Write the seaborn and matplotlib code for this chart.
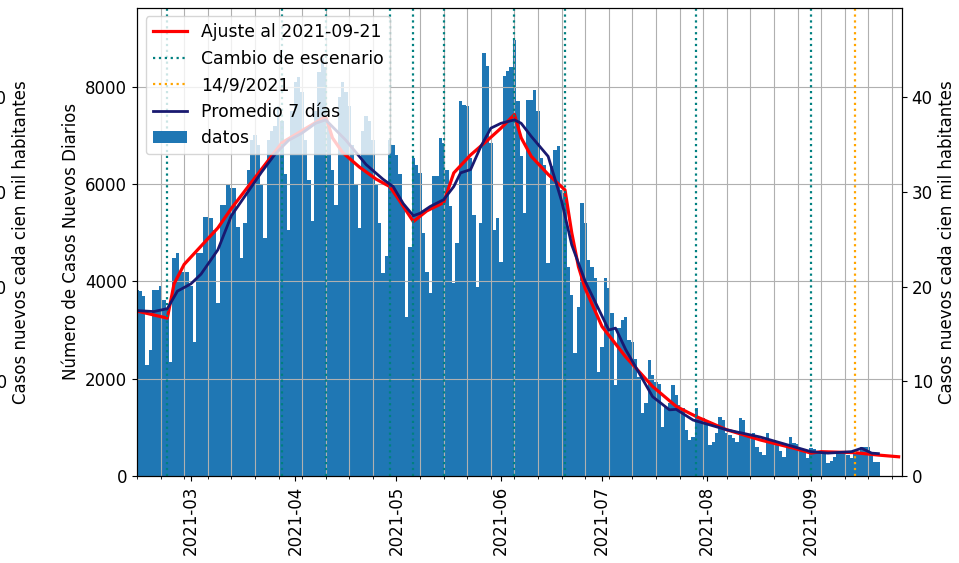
import matplotlib
matplotlib.use("Agg")
import matplotlib.pyplot as plt
import matplotlib.dates as mdates
import pandas as pd
import seaborn as sns

plt.rcParams["font.family"] = ["DejaVu Sans"]
plt.rcParams["font.size"] = 12

# Casos nuevos diarios desde 2021-02-13 (una fila por semana, sábado a viernes)
inicio = "2021-02-13"
casos = [
    3826, 3800, 3700, 2283, 2600, 3826, 3826,
    3900, 3620, 3400, 2351, 4484, 4587, 4202,
    4202, 4202, 3900, 2762, 4587, 4587, 5333,
    5333, 5300, 5060, 3558, 5574, 5574, 5985,
    5923, 5923, 5128, 4484, 5200, 6294, 6900,
    7000, 6800, 6000, 4895, 6900, 7100, 7200,
    7600, 7300, 6200, 5060, 7500, 8100, 8200,
    7900, 6900, 6088, 5232, 7500, 8300, 8600,
    8400, 7200, 6300, 5574, 7800, 8100, 7900,
    7600, 6800, 6000, 5100, 7100, 7400, 7300,
    6900, 6000, 5200, 4175, 4512, 6900, 6800,
    6600, 6200, 5600, 3277, 4717, 6540, 6400,
    6230, 5000, 4200, 3760, 6157, 6157, 6950,
    6850, 6294, 5540, 3970, 4790, 7700, 7630,
    7600, 6540, 5370, 3893, 5200, 8693, 8419,
    6850, 5060, 5300, 4400, 8212, 8316, 8400,
    8968, 7700, 6568, 5403, 7734, 7734, 7940,
    7493, 6534, 6400, 4375, 6362, 6705, 6773,
    5883, 5820, 4300, 3723, 2530, 3483, 5609,
    5200, 4443, 4300, 4072, 2146, 2660, 4072,
    3866, 3350, 1872, 3044, 3200, 3277, 2797,
    2762, 2400, 2042, 1296, 1500, 2386, 2077,
    1940, 1900, 1014, 1426, 1500, 1872, 1666,
    1460, 1400, 946, 740, 800, 1392, 1220,
    1200, 1152, 638, 700, 884, 1220, 1150,
    884, 843, 780, 706, 1193, 1150, 808,
    850, 884, 603, 500, 432, 884, 740,
    740, 638, 520, 397, 603, 808, 678,
    650, 570, 560, 370, 570, 560, 520,
    520, 500, 267, 300, 397, 467, 467,
    467, 430, 370, 467, 470, 603, 603,
    603, 467, 294, 280,
]

# Ajuste por tramos entre cambios de escenario
ajuste_fechas = ["2021-02-13", "2021-02-22", "2021-02-24", "2021-02-27", "2021-03-03",
                 "2021-03-09", "2021-03-13", "2021-03-18", "2021-03-23", "2021-03-28",
                 "2021-04-03", "2021-04-10", "2021-04-12", "2021-04-15", "2021-04-20",
                 "2021-04-25", "2021-04-29", "2021-05-02", "2021-05-06", "2021-05-10",
                 "2021-05-15", "2021-05-18", "2021-05-23", "2021-05-28", "2021-06-01",
                 "2021-06-05", "2021-06-07", "2021-06-10", "2021-06-15", "2021-06-20",
                 "2021-06-22", "2021-06-24", "2021-06-26", "2021-07-01", "2021-07-08",
                 "2021-07-16", "2021-07-23", "2021-07-29", "2021-08-07", "2021-08-17",
                 "2021-08-27", "2021-09-01", "2021-09-04", "2021-09-14", "2021-09-21",
                 "2021-09-27"]
ajuste_valores = [3390, 3245, 3950, 4350, 4650,
                  5100, 5500, 5950, 6400, 6850,
                  7100, 7390, 6950, 6650, 6350,
                  6100, 5950, 5650, 5230, 5450,
                  5620, 6230, 6600, 6900, 7150,
                  7430, 6950, 6570, 6200, 5880,
                  5000, 4300, 3850, 3070, 2450,
                  1840, 1430, 1220, 950, 740,
                  570, 470, 500, 480, 430,
                  395]

# Promedio móvil de 7 días
prom_fechas = ["2021-02-13", "2021-02-18", "2021-02-22", "2021-02-25", "2021-03-01",
               "2021-03-04", "2021-03-09", "2021-03-13", "2021-03-18", "2021-03-22",
               "2021-03-26", "2021-03-30", "2021-04-03", "2021-04-07", "2021-04-10",
               "2021-04-16", "2021-04-22", "2021-04-27", "2021-04-30", "2021-05-03",
               "2021-05-06", "2021-05-08", "2021-05-11", "2021-05-15", "2021-05-18",
               "2021-05-20", "2021-05-23", "2021-05-26", "2021-05-29", "2021-06-01",
               "2021-06-05", "2021-06-07", "2021-06-10", "2021-06-15", "2021-06-19",
               "2021-06-22", "2021-06-26", "2021-07-03", "2021-07-05", "2021-07-08",
               "2021-07-16", "2021-07-21", "2021-07-23", "2021-07-28", "2021-08-07",
               "2021-08-17", "2021-08-27", "2021-09-01", "2021-09-06", "2021-09-13",
               "2021-09-16", "2021-09-19", "2021-09-21"]
prom_valores = [3400, 3380, 3440, 3800, 3950,
                4150, 4650, 5350, 5850, 6250,
                6620, 6900, 7050, 7250, 7320,
                6900, 6400, 6100, 5950, 5600,
                5350, 5400, 5540, 5680, 5950,
                6230, 6300, 6770, 7150, 7250,
                7320, 7250, 6980, 6570, 5650,
                4750, 4000, 3000, 3040, 2600,
                1630, 1360, 1370, 1150, 950,
                800, 600, 500, 470, 500,
                570, 470, 460]

cambios = ["2021-02-22", "2021-03-28", "2021-04-10", "2021-04-29", "2021-05-06",
           "2021-05-15", "2021-06-05", "2021-06-20", "2021-07-29", "2021-09-01"]
fecha_ref = "2021-09-14"
poblacion = 19_470_000
ymax = 9630

fechas = pd.date_range(inicio, periods=len(casos), freq="D")
df = pd.DataFrame({"fecha": fechas, "casos": casos})
aj = pd.DataFrame({"fecha": pd.to_datetime(ajuste_fechas), "valor": ajuste_valores})
pr = pd.DataFrame({"fecha": pd.to_datetime(prom_fechas), "valor": prom_valores})

fig = plt.figure(figsize=(9.59, 5.63), dpi=100)
ax = fig.add_axes([137 / 959, 1 - 476 / 563, (902 - 137) / 959, (476 - 7.5) / 563])

ax.bar(df["fecha"], df["casos"], width=1.0, color="#1f77b4", label="datos")
sns.lineplot(data=aj, x="fecha", y="valor", ax=ax, color="red", lw=2.3,
             label="Ajuste al 2021-09-21", legend=False)
for k, c in enumerate(cambios):
    ax.axvline(pd.Timestamp(c), color="teal", ls=":", lw=1.6,
               label="Cambio de escenario" if k == 0 else None)
ax.axvline(pd.Timestamp(fecha_ref), color="orange", ls=":", lw=1.6, label="14/9/2021")
sns.lineplot(data=pr, x="fecha", y="valor", ax=ax, color="#191970", lw=2.0,
             label="Promedio 7 días", legend=False)

ax.set_xlim(pd.Timestamp("2021-02-13"), pd.Timestamp("2021-09-28"))
ax.set_ylim(0, ymax)
ax.set_yticks([0, 2000, 4000, 6000, 8000])
ax.xaxis.set_major_locator(mdates.MonthLocator())
ax.xaxis.set_major_formatter(mdates.DateFormatter("%Y-%m"))
ax.xaxis.set_minor_locator(mdates.WeekdayLocator(byweekday=mdates.SA))
plt.setp(ax.get_xticklabels(), rotation=90)
ax.grid(which="minor", axis="x", color="#b0b0b0", lw=0.8)
ax.grid(which="major", axis="y", color="#b0b0b0", lw=0.8)
ax.set_xlabel("")
ax.set_ylabel("Número de Casos Nuevos Diarios")

ax2 = ax.twinx()
ax2.set_ylim(0, ymax * 1e5 / poblacion)
ax2.set_yticks([0, 10, 20, 30, 40])
ax2.set_ylabel("Casos nuevos cada cien mil habitantes")

orden = ["Ajuste al 2021-09-21", "Cambio de escenario", "14/9/2021", "Promedio 7 días", "datos"]
h, l = ax.get_legend_handles_labels()
m = dict(zip(l, h))
ax.legend([m[o] for o in orden], orden, loc="upper left", fontsize=12.4)

# eje secundario del panel vecino, a la izquierda
axp = fig.add_axes([-0.5, 1 - 476 / 563, 0.475, (476 - 7.5) / 563])
axp.set_ylim(0, ymax * 1e5 / poblacion)
axp.yaxis.tick_right()
axp.yaxis.set_label_position("right")
axp.set_yticks([0, 10, 20, 30, 40])
axp.set_ylabel("Casos nuevos cada cien mil habitantes")
axp.set_xticks([])

fig.savefig("out.png", dpi=100)
